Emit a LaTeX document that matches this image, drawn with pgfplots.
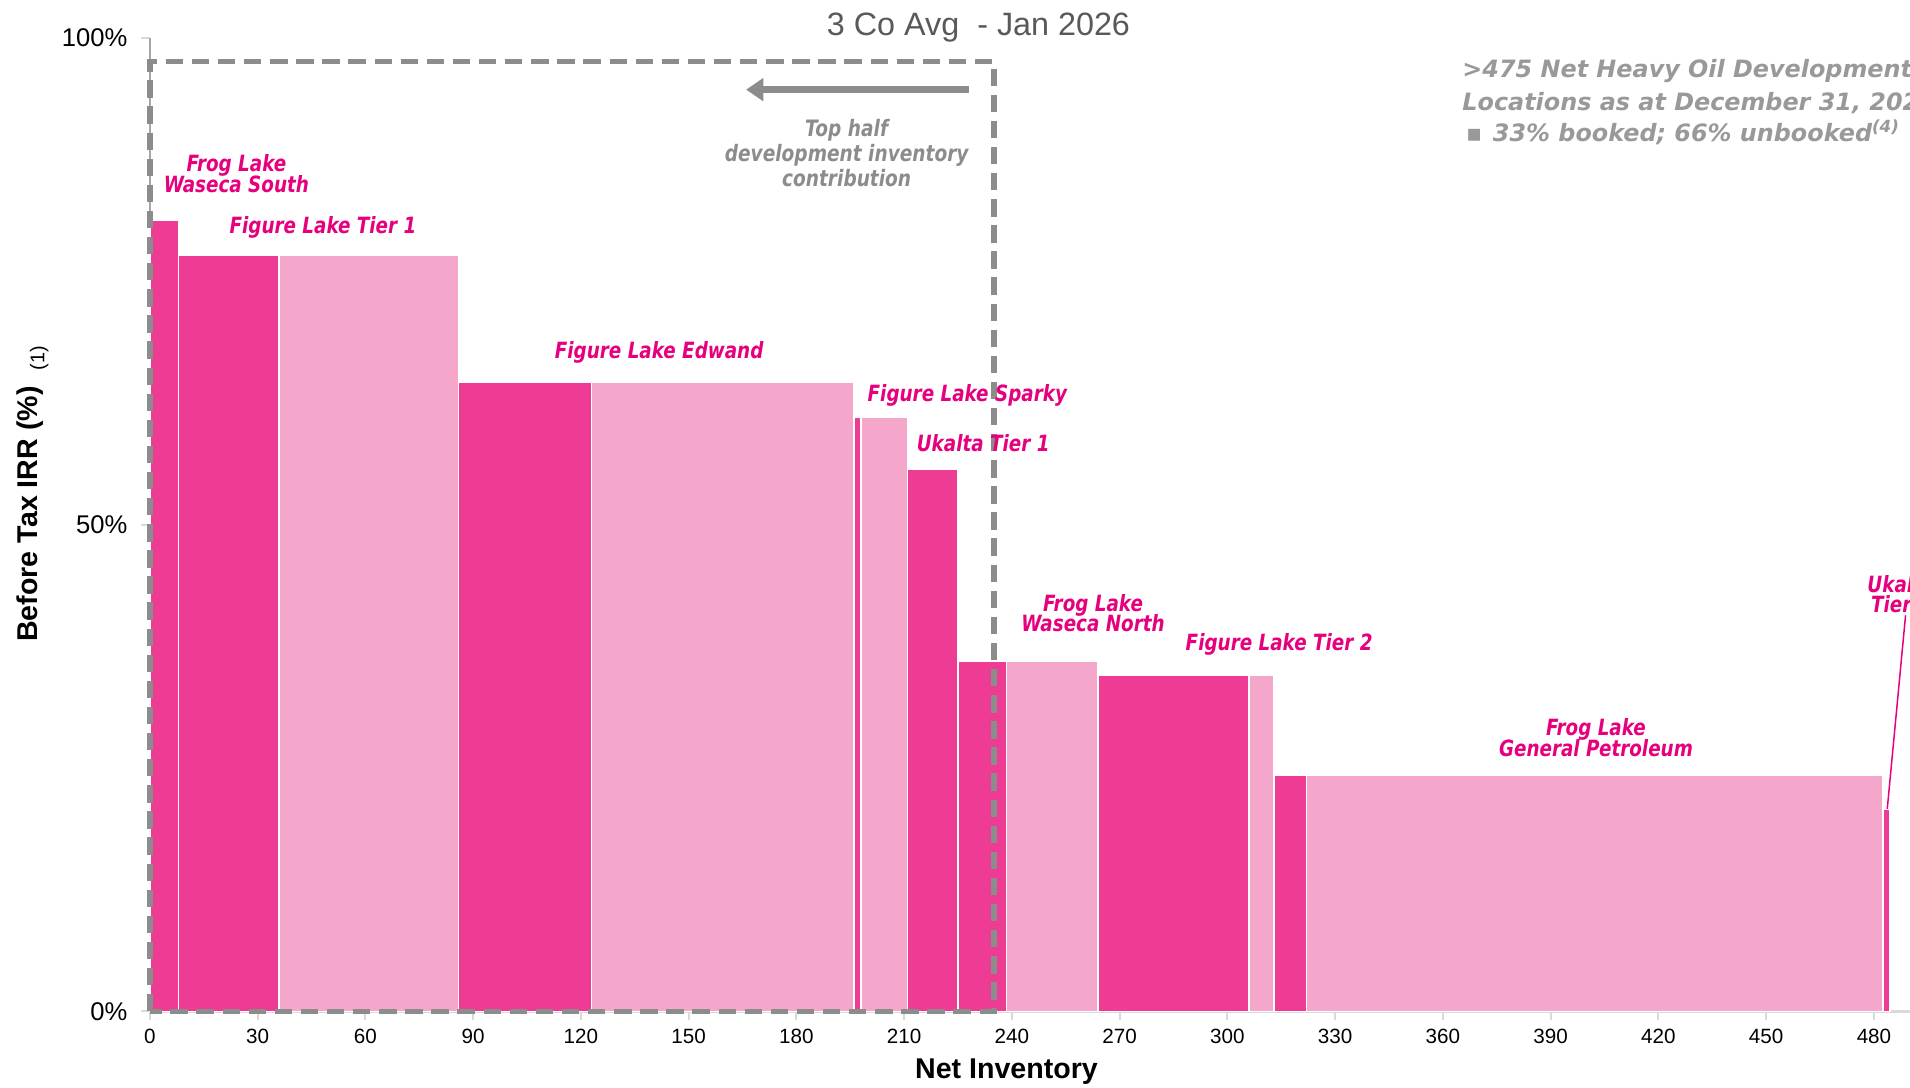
\documentclass[border=0pt]{standalone}
\usepackage{fontspec}
\setmainfont{Liberation Sans}
\newfontfamily\labelfont[FakeStretch=0.82]{DejaVu Sans}
\newfontfamily\notefont{DejaVu Sans}
\usepackage{pgfplots}
\pgfplotsset{compat=1.18}
\usetikzlibrary{arrows.meta}

\definecolor{darkpink}{HTML}{EE3B93}
\definecolor{lightpink}{HTML}{F4A7CA}
\definecolor{labmag}{HTML}{E6007E}
\definecolor{boxgray}{HTML}{8C8C8C}
\definecolor{notegray}{HTML}{999999}
\definecolor{titlegray}{HTML}{595959}
\definecolor{xaxisgray}{HTML}{D9D9D9}
\definecolor{yaxisgray}{HTML}{A6A6A6}

\tikzset{
  dk/.style={fill=darkpink, draw=white, line width=0.6pt, mark=none},
  lt/.style={fill=lightpink, draw=white, line width=0.6pt, mark=none},
  lab/.style={text=labmag, align=center, inner sep=0pt,
    font=\labelfont\bfseries\itshape\fontsize{9}{8.4}\selectfont},
}

\begin{document}
\begin{tikzpicture}
\begin{axis}[
  at={(0,0)}, anchor=south west,
  scale only axis, width=24.88cm, height=13.76cm,
  xmin=0, xmax=490, ymin=0, ymax=100,
  axis x line*=bottom, axis y line*=left,
  x axis line style={draw=xaxisgray, line width=1.2pt, -},
  y axis line style={draw=yaxisgray, line width=0.8pt, -},
  xtick={0,30,...,480}, ytick={0,50,100},
  yticklabel={\pgfmathprintnumber{\tick}\%},
  tick style={draw=xaxisgray, line width=0.8pt},
  tick align=outside, major tick length=3.5pt,
  xticklabel style={font=\fontsize{8.3}{10}\selectfont, text=black},
  yticklabel style={font=\fontsize{10.3}{12}\selectfont, text=black, xshift=-2pt},
  /pgf/number format/assume math mode=true,
  clip=false,
]
% Before-tax IRR by play, net inventory on the x axis
\addplot[dk] coordinates {(0,81.3) (8,81.3)} \closedcycle;      % Frog Lake Waseca South
\addplot[dk] coordinates {(8,77.7) (36,77.7)} \closedcycle;     % Figure Lake Tier 1
\addplot[lt] coordinates {(36,77.7) (86,77.7)} \closedcycle;
\addplot[dk] coordinates {(86,64.6) (123,64.6)} \closedcycle;   % Figure Lake Edwand
\addplot[lt] coordinates {(123,64.6) (196,64.6)} \closedcycle;
\addplot[dk] coordinates {(196,61.0) (198,61.0)} \closedcycle;  % Figure Lake Sparky
\addplot[lt] coordinates {(198,61.0) (211,61.0)} \closedcycle;
\addplot[dk] coordinates {(211,55.7) (225,55.7)} \closedcycle;  % Ukalta Tier 1
\addplot[dk] coordinates {(225,36.0) (238.5,36.0)} \closedcycle;% Frog Lake Waseca North
\addplot[lt] coordinates {(238.5,36.0) (264,36.0)} \closedcycle;
\addplot[dk] coordinates {(264,34.5) (306,34.5)} \closedcycle;  % Figure Lake Tier 2
\addplot[lt] coordinates {(306,34.5) (313,34.5)} \closedcycle;
\addplot[dk] coordinates {(313,24.3) (322,24.3)} \closedcycle;  % Frog Lake General Petroleum
\addplot[lt] coordinates {(322,24.3) (482.5,24.3)} \closedcycle;
\addplot[dk] coordinates {(482.5,20.8) (484.5,20.8)} \closedcycle; % Ukalta Tier 2

% top-half inventory box and arrow
\draw[boxgray, line width=2.2pt, dash pattern=on 7pt off 3.5pt]
  (axis cs:0,0) rectangle (axis cs:235,97.6);
\draw[boxgray, line width=2.6pt, -{Triangle[length=7pt,width=9pt]}]
  (axis cs:228,94.7) -- (axis cs:166,94.7);
\node[text=boxgray, align=center, font=\labelfont\bfseries\itshape\fontsize{9.1}{10}\selectfont]
  at (axis cs:194,88.2) {Top half\\development inventory\\contribution};

% play labels
\node[lab] at (axis cs:24.1,86.05) {Frog Lake\\[-1.5pt]Waseca South};
\node[lab] at (axis cs:48.2,80.5) {Figure Lake Tier 1};
\node[lab] at (axis cs:141.8,67.7) {Figure Lake Edwand};
\node[lab] at (axis cs:227.6,63.3) {Figure Lake Sparky};
\node[lab] at (axis cs:232.0,58.4) {Ukalta Tier 1};
\node[lab] at (axis cs:262.6,40.9) {Frog Lake\\[-1.5pt]Waseca North};
\node[lab] at (axis cs:314.4,37.7) {Figure Lake Tier 2};
\node[lab] at (axis cs:402.6,28.1) {Frog Lake\\[-1.5pt]General Petroleum};
\node[lab] at (axis cs:487.5,42.9) {Ukalta\\[-0.5pt]Tier 2};
\draw[labmag, line width=0.6pt] (axis cs:488.8,40.7) -- (axis cs:483.7,20.8);

% inventory note
\begin{scope}[every node/.style={text=notegray, anchor=base west, inner sep=0pt,
    font=\notefont\bfseries\itshape\fontsize{9.6}{12}\selectfont}]
\node at (axis cs:365.3,95.9) {>475 Net Heavy Oil Development};
\node at (axis cs:365.3,92.6) {Locations as at December 31, 2025};
\node at (axis cs:373.8,89.4) {33\% booked; 66\% unbooked\textsuperscript{(4)}};
\node at (axis cs:366.3,89.4) {▪};
\end{scope}

% titles
\node[text=titlegray, font=\fontsize{13}{15}\selectfont] at (axis cs:230.7,101.1) {3 Co Avg\ \ - Jan 2026};
\node[font=\bfseries\fontsize{11.5}{13}\selectfont, rotate=90] at (axis cs:-33.2,51.1) {Before Tax IRR (\%)};
\node[font=\fontsize{8}{9}\selectfont, rotate=90] at (axis cs:-30.8,67.1) {(1)};
\node[font=\bfseries\fontsize{11.5}{13}\selectfont] at (axis cs:238.5,-6.2) {Net Inventory};
\end{axis}
\pgfresetboundingbox
\path[use as bounding box] (-2.118cm,-1.068cm) rectangle (24.882cm,14.298cm);
\end{tikzpicture}
\end{document}
